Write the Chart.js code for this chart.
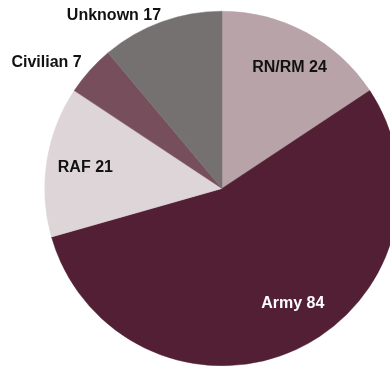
<!DOCTYPE html>
<html>
<head>
<meta charset="utf-8">
<script src="https://cdn.jsdelivr.net/npm/chart.js@4"></script>
<style>
  html, body { margin: 0; padding: 0; background: #fff; overflow: hidden; }
  body { width: 390px; height: 370px; position: relative; }
  .wrap { position: absolute; left: 0; top: 0; width: 444px; height: 370px; }
</style>
</head>
<body>
<div class="wrap"><canvas id="serviceChart"></canvas></div>
<script>
// Casualties by service
const services = ["RN/RM", "Army", "RAF", "Civilian", "Unknown"];
const counts = [24, 84, 21, 7, 17];
const sliceColors = ["#b8a4a8", "#521f35", "#ddd5d7", "#774f5c", "#757171"];

// label placement: distance from centre (fraction of radius), angle nudge (deg), text colour
const labelRadius = [0.78, 0.76, 0.78, 1.22, 1.15];
const labelNudge = [1, -7, 0, -6, -12];
const labelColors = ["#111", "#fff", "#111", "#111", "#111"];

const sliceLabels = {
    id: "sliceLabels",
    afterDatasetsDraw(chart) {
        const ctx = chart.ctx;
        const meta = chart.getDatasetMeta(0);
        ctx.save();
        ctx.font = "bold 16px 'Liberation Sans', Arial, sans-serif";
        ctx.textAlign = "center";
        ctx.textBaseline = "middle";
        meta.data.forEach((arc, i) => {
            const mid = (arc.startAngle + arc.endAngle) / 2 + labelNudge[i] * Math.PI / 180;
            const r = arc.outerRadius * labelRadius[i];
            const x = arc.x + Math.cos(mid) * r;
            const y = arc.y + Math.sin(mid) * r;
            ctx.fillStyle = labelColors[i];
            ctx.fillText(services[i] + " " + counts[i], x, y);
        });
        ctx.restore();
    },
};

new Chart(document.getElementById("serviceChart"), {
    type: "pie",
    data: {
        labels: services,
        datasets: [
            {
                data: counts,
                backgroundColor: sliceColors,
                borderColor: sliceColors,
                borderWidth: 0.5,
            },
        ],
    },
    options: {
        responsive: true,
        maintainAspectRatio: false,
        animation: false,
        layout: { padding: { top: 11, bottom: 4, left: 0, right: 0 } },
        plugins: {
            legend: { display: false },
            tooltip: { enabled: false },
        },
    },
    plugins: [sliceLabels],
});
</script>
</body>
</html>
